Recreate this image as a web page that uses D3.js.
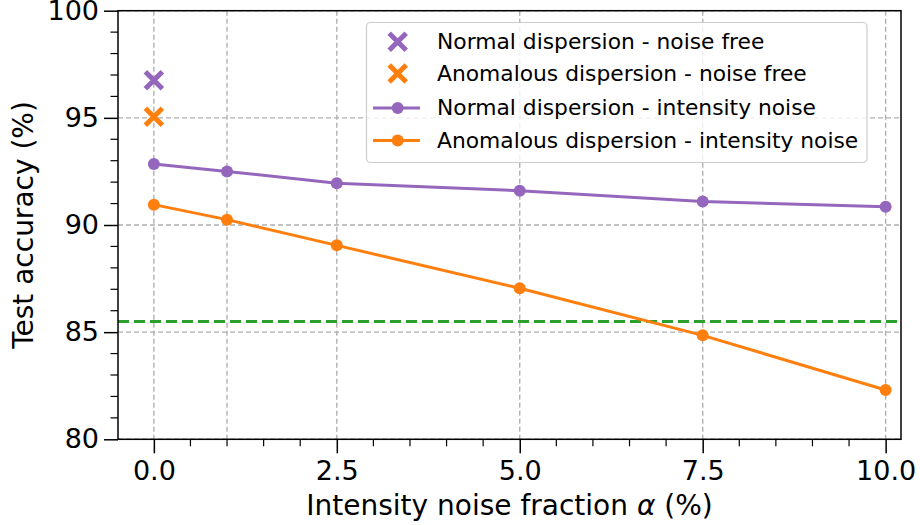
<!DOCTYPE html>
<html>
<head>
<meta charset="utf-8">
<script src="https://cdn.jsdelivr.net/npm/d3@7"></script>
<style>
  body { margin: 0; background: #fff; }
  svg { font-family: "DejaVu Sans", sans-serif; }
</style>
</head>
<body>
<svg id="chart" width="920" height="525"></svg>
<script>
// data
var alphaValues = [0, 1, 2.5, 5, 7.5, 10];
var normalNoise = [92.85, 92.5, 91.95, 91.6, 91.1, 90.85];
var anomalousNoise = [90.95, 90.25, 89.05, 87.05, 84.85, 82.3];
var normalFree = 96.75;
var anomalousFree = 95.05;
var baseline = 85.5;
var xTicks = [0, 2.5, 5, 7.5, 10];
var yTicks = [80, 85, 90, 95, 100];
var legendLabels = [
  "Normal dispersion - noise free",
  "Anomalous dispersion - noise free",
  "Normal dispersion - intensity noise",
  "Anomalous dispersion - intensity noise"
];

var purple = "#9467bd", orange = "#ff7f0e", green = "#2ca02c";

var margin = {top: 10.7, right: 19, bottom: 85.7, left: 118},
    width = 920 - margin.left - margin.right,
    height = 525 - margin.top - margin.bottom;

var svg = d3.select("#chart");
var plot = svg.append("g")
    .attr("transform", "translate(" + margin.left + "," + margin.top + ")");

var xScale = d3.scaleLinear().domain([-0.49, 10.21]).range([0, width]);
var yScale = d3.scaleLinear().domain([80, 100]).range([height, 0]);

// grid
plot.append("g").selectAll("line").data(alphaValues).enter().append("line")
    .attr("x1", function(d) { return xScale(d); })
    .attr("x2", function(d) { return xScale(d); })
    .attr("y1", 0).attr("y2", height)
    .attr("stroke", "#b0b0b0").attr("stroke-width", 1.4)
    .attr("stroke-dasharray", "5,3");
plot.append("g").selectAll("line").data(yTicks).enter().append("line")
    .attr("x1", 0).attr("x2", width)
    .attr("y1", function(d) { return yScale(d); })
    .attr("y2", function(d) { return yScale(d); })
    .attr("stroke", "#b0b0b0").attr("stroke-width", 1.4)
    .attr("stroke-dasharray", "5,3");

// baseline
plot.append("line")
    .attr("x1", 0).attr("x2", width)
    .attr("y1", yScale(baseline)).attr("y2", yScale(baseline))
    .attr("stroke", green).attr("stroke-width", 3)
    .attr("stroke-dasharray", "11,5");

// lines with markers
var line = d3.line()
    .x(function(d, i) { return xScale(alphaValues[i]); })
    .y(function(d) { return yScale(d); });

[[normalNoise, purple], [anomalousNoise, orange]].forEach(function(s) {
  plot.append("path").datum(s[0])
      .attr("fill", "none").attr("stroke", s[1]).attr("stroke-width", 3)
      .attr("d", line);
  plot.append("g").selectAll("circle").data(s[0]).enter().append("circle")
      .attr("cx", function(d, i) { return xScale(alphaValues[i]); })
      .attr("cy", function(d) { return yScale(d); })
      .attr("r", 6).attr("fill", s[1]);
});

// x markers
function cross(g, cx, cy, size, color) {
  g.append("path")
      .attr("d", "M" + (cx - size) + "," + (cy - size) + "L" + (cx + size) + "," + (cy + size) +
                 "M" + (cx - size) + "," + (cy + size) + "L" + (cx + size) + "," + (cy - size))
      .attr("stroke", color).attr("stroke-width", 5).attr("fill", "none");
}
cross(plot, xScale(0), yScale(normalFree), 8.5, purple);
cross(plot, xScale(0), yScale(anomalousFree), 8.5, orange);

// axes
var xAxis = plot.append("g")
    .attr("transform", "translate(0," + height + ")")
    .call(d3.axisBottom(xScale).tickValues(xTicks).tickFormat(d3.format(".1f")).tickSize(14).tickPadding(8));
var yAxis = plot.append("g")
    .call(d3.axisLeft(yScale).tickValues(yTicks).tickFormat(d3.format("d")).tickSize(14).tickPadding(5));

[xAxis, yAxis].forEach(function(a) {
  a.select(".domain").remove();
  a.selectAll("line").attr("stroke", "#000").attr("stroke-width", 1.5);
  a.selectAll("text").attr("font-size", 27).attr("fill", "#000")
      .attr("font-family", "DejaVu Sans");
});

// minor ticks
plot.append("g").selectAll("line").data(d3.range(0, 10.01, 0.5).filter(function(d) { return d % 2.5 !== 0; }))
    .enter().append("line")
    .attr("x1", function(d) { return xScale(d); }).attr("x2", function(d) { return xScale(d); })
    .attr("y1", height).attr("y2", height + 7)
    .attr("stroke", "#000").attr("stroke-width", 1.2);
plot.append("g").selectAll("line").data(d3.range(81, 100, 1).filter(function(d) { return d % 5 !== 0; }))
    .enter().append("line")
    .attr("x1", 0).attr("x2", -7.5)
    .attr("y1", function(d) { return yScale(d); }).attr("y2", function(d) { return yScale(d); })
    .attr("stroke", "#000").attr("stroke-width", 1.2);

// frame
plot.append("rect")
    .attr("x", 0).attr("y", 0).attr("width", width).attr("height", height)
    .attr("fill", "none").attr("stroke", "#000").attr("stroke-width", 1.5);

// axis labels
svg.append("text")
    .attr("x", margin.left + width / 2).attr("y", 515)
    .attr("text-anchor", "middle").attr("font-size", 28)
    .html("Intensity noise fraction <tspan font-style='italic'>α</tspan> (%)");
svg.append("text")
    .attr("transform", "translate(33," + (margin.top + height / 2) + ")rotate(-90)")
    .attr("text-anchor", "middle").attr("font-size", 28)
    .text("Test accuracy (%)");

// legend
var legend = svg.append("g");
legend.append("rect")
    .attr("x", 366.5).attr("y", 22.5).attr("width", 500.5).attr("height", 140)
    .attr("rx", 4).attr("fill", "#fff").attr("fill-opacity", 0.8)
    .attr("stroke", "#cccccc").attr("stroke-width", 1.2);
var rowY = [41.7, 73.5, 108, 140.5];
var rowColor = [purple, orange, purple, orange];
legendLabels.forEach(function(lbl, i) {
  if (i < 2) {
    cross(legend, 397.7, rowY[i], 8.5, rowColor[i]);
  } else {
    legend.append("line").attr("x1", 373).attr("x2", 420)
        .attr("y1", rowY[i]).attr("y2", rowY[i])
        .attr("stroke", rowColor[i]).attr("stroke-width", 3);
    legend.append("circle").attr("cx", 397.7).attr("cy", rowY[i]).attr("r", 6)
        .attr("fill", rowColor[i]);
  }
  legend.append("text")
      .attr("x", 437).attr("y", rowY[i] + 7)
      .attr("font-size", 21.8).text(lbl);
});
</script>
</body>
</html>
